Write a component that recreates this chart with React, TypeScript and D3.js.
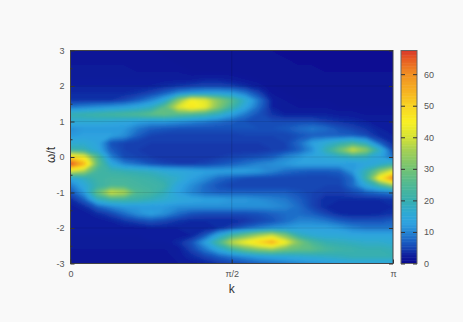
import React, { useEffect, useRef } from 'react';
import * as d3 from 'd3';

// Axis ticks
const kTicks = [0, Math.PI / 2, Math.PI];
const kLabels = ['0', 'π/2', 'π'];
const omegaTicks = [-3, -2, -1, 0, 1, 2, 3];
const omegaMinorTicks = [-2.5, -1.5, -0.5, 0.5, 1.5, 2.5];
const omegaGrid = [-2, -1, 0, 1, 2];
const colorTicks = [0, 10, 20, 30, 40, 50, 60];
const colorMax = 67.5;

// Spectral weight: 25 k columns from 0 to pi, rows from w/t = 3 down to -3 by 0.2
const intensity = [
  [1.5, 1.5, 1.5, 1.5, 1.5, 1.5, 1.5, 1, 1, 1, 1, 1, 1, 1, 1, 1, 0.5, 0.5, 0.5, 0.5, 0.5, 0.5, 0.5, 0.5, 0.5],
  [1.5, 1.5, 1.5, 1.5, 1.5, 1.5, 1.5, 1.5, 1, 1, 1, 1, 1, 1, 1, 1, 1, 0.5, 0.5, 0.5, 0.5, 0.5, 0.5, 0.5, 0.5],
  [2, 2, 2, 2, 2, 1.5, 1.5, 1.5, 1.5, 1, 1, 1, 1, 1, 1, 1, 1, 1, 1, 0.5, 0.5, 0.5, 0.5, 0.5, 0.5],
  [2, 2, 2, 2, 2, 2, 2, 2, 2, 1.5, 1.5, 1.5, 1.5, 1, 1, 1, 1, 1, 1, 1, 1, 1, 1, 1, 1],
  [2.5, 2.5, 2.5, 2.5, 2.5, 2.5, 2.5, 2.5, 2.5, 2.5, 3, 3, 2.5, 2, 1.5, 1, 1, 1, 1, 1, 1, 1, 1, 1, 1],
  [3, 3, 3, 3, 3, 3, 3, 3.5, 4, 4.5, 5, 5, 4.5, 3.5, 2.5, 1.5, 1, 1, 1, 1, 1, 1, 1, 1, 1],
  [3.5, 3.5, 3.5, 3.5, 3.5, 4, 5, 7, 10, 12, 13, 13, 12, 9, 5, 2, 1.5, 1, 1, 1, 1, 1, 1, 1, 1],
  [4, 4, 4, 4, 5, 7, 10, 15, 32, 45, 42, 33, 26, 17, 9, 3, 2, 1.5, 1.5, 1.5, 1, 1, 1, 1, 1],
  [9, 10, 11, 12, 13, 15, 18, 27, 41, 47, 43, 32, 22, 14, 8, 3, 2, 2, 2, 2, 1.5, 1.5, 1.5, 1.5, 1.5],
  [20, 21, 22, 23, 24, 25, 27, 28, 26, 24, 22, 18, 13, 9, 6, 4, 3, 3, 3, 3, 2.5, 2.5, 2, 2, 2],
  [16, 16, 16, 15, 14, 13, 12, 12, 11, 10, 9, 8, 7, 6, 5.5, 5.5, 5.5, 5.5, 5.5, 4.5, 4, 3.5, 3, 2.5, 2.5],
  [11, 12, 12, 12, 12, 9, 7, 6.5, 6, 6, 6, 6, 6, 6, 6, 6, 6.5, 8, 9, 8, 6, 5, 4, 3, 2.5],
  [12, 13, 13, 13, 11, 7, 5, 4.5, 4.5, 4.5, 4.5, 4.5, 4.5, 5, 5, 5, 5, 6, 7, 7, 7, 7, 5.5, 3.5, 3],
  [16, 16, 14, 6, 5, 4.5, 4.5, 4.5, 4.5, 4.5, 4.5, 4.5, 4.5, 4.5, 4.5, 4.5, 5, 8, 13, 16, 19, 22, 17, 7, 3.5],
  [21, 20, 15, 7, 5, 4.5, 4, 4, 4, 4, 4, 4, 4, 4, 4, 4.5, 5, 7, 11, 20, 29, 40, 33, 18, 5],
  [50, 44, 25, 10, 5.5, 5, 4.5, 4, 4, 4, 4, 4.5, 5, 5.5, 6, 7, 10, 12, 14, 15, 17, 19, 18, 14, 8],
  [67, 55, 28, 15, 10, 8, 6, 5, 4.5, 4.5, 5, 6, 7, 8.5, 10, 11, 12, 13, 13, 13, 13, 12, 14, 16, 20],
  [40, 35, 23, 21, 20, 19, 18, 16, 15, 14, 13, 13, 13, 13, 12, 10, 8, 7, 6.5, 6.5, 7, 12, 20, 32, 42],
  [14, 18, 22, 23, 23, 22, 21, 19, 17, 13, 11, 8, 6.5, 5.5, 5, 5, 5, 5, 5, 5, 5.5, 8, 22, 46, 62],
  [9, 15, 21, 24, 24, 23, 22, 21, 14, 11, 8, 6, 5, 5, 5, 5, 5, 5, 5, 5, 5, 8, 15, 22, 32],
  [6, 12, 28, 40, 37, 25, 23, 19, 13, 10, 8, 7, 7, 7, 7, 7, 7, 6, 5, 4.5, 4.5, 5.5, 7, 8, 9],
  [3.5, 7, 18, 22, 22, 21, 19, 17, 15, 14, 13, 13, 12, 12, 11, 10, 9, 7, 5, 3.5, 3.5, 3.5, 3.5, 3.5, 4],
  [2.5, 3.5, 7, 10, 12, 12, 12, 12, 11, 11, 11, 11, 11, 11, 11, 11, 10, 8, 5, 3.5, 3, 3, 3, 3, 3.5],
  [2.5, 2.5, 3.5, 5, 8, 11, 13, 11, 8, 6, 5.5, 5.5, 5.5, 5.5, 6, 7, 8, 8, 7, 5, 3.5, 3, 3, 3.5, 4],
  [2.5, 2.5, 2.5, 3, 4, 5, 6, 5, 4, 3.5, 3.5, 3.5, 3.5, 4, 5, 6, 8, 10, 10, 9, 7, 6, 6, 6, 7],
  [2.5, 2.5, 2.5, 2.5, 2.5, 2.5, 3, 3, 3, 3, 3, 3.5, 5, 7, 9, 11, 12, 13, 13, 13, 12, 10, 9, 9, 9],
  [2.5, 2.5, 2.5, 2.5, 2.5, 2.5, 2.5, 2.5, 2.5, 3, 6, 14, 22, 28, 34, 38, 30, 19, 16, 15, 15, 14, 14, 14, 14],
  [2, 2, 2, 2, 2, 2, 2.5, 2.5, 3.5, 6, 13, 24, 38, 44, 50, 56, 44, 32, 24, 20, 19, 18, 17, 17, 16],
  [2, 2, 2, 2, 2, 2, 2, 2, 2.5, 5, 9, 15, 22, 28, 32, 34, 30, 28, 27, 24, 22, 21, 20, 20, 19],
  [1.5, 1.5, 1.5, 1.5, 1.5, 1.5, 1.5, 1.5, 2.5, 3.5, 5, 7, 9, 11, 13, 14, 15, 16, 17, 18, 19, 20, 20, 20, 20],
  [1.5, 1.5, 1.5, 1.5, 1.5, 1.5, 1.5, 1.5, 2, 2.5, 3, 4, 5, 6, 7, 8, 9, 10, 11, 12, 13, 14, 14, 14, 14],
];

const colorStops = [0, 3, 5, 7, 10, 13, 16, 20, 25, 30, 36, 40, 45, 50, 55, 60, 65, 67.5];
const colorValues = [
  '#08088e', '#0e209e', '#1644b2', '#1a5ec2', '#2484d2', '#2ea2e0', '#2eaad4', '#36aeb0', '#4fb894',
  '#72c274', '#a4d054', '#d4e236', '#f8f024', '#f8d422', '#f6b022', '#f09022', '#e65a24', '#d83828',
];

const width = 463;
const height = 322;
const plot = { left: 70.5, right: 393, top: 50.5, bottom: 263.5 };
const bar = { left: 401, right: 417 };

const color = d3.scaleLinear<string>().domain(colorStops).range(colorValues).clamp(true);

export default function App() {
  const svgRef = useRef<SVGSVGElement>(null);

  const xScale = d3.scaleLinear().domain([0, Math.PI]).range([plot.left, plot.right]);
  const yScale = d3.scaleLinear().domain([-3, 3]).range([plot.bottom, plot.top]);
  const barScale = d3.scaleLinear().domain([0, colorMax]).range([plot.bottom, plot.top]);

  const nCols = intensity[0].length;
  const nRows = intensity.length;
  const colX = d3.scaleLinear().domain([0.5, nCols - 0.5]).range([plot.left, plot.right]);
  const rowY = d3.scaleLinear().domain([0.5, nRows - 0.5]).range([plot.top, plot.bottom]);

  const levels = d3.range(0, colorMax, 0.5);
  const contours = d3
    .contours()
    .size([nCols, nRows])
    .thresholds(levels)(intensity.flat());
  const path = d3.geoPath(
    d3.geoTransform({
      point(x, y) {
        this.stream.point(colX(x), rowY(y));
      },
    })
  );

  useEffect(() => {
    const svg = d3.select(svgRef.current);

    const styleAxis = (g, labelSize = 9) => {
      g.select('.domain').remove();
      g.selectAll('line').attr('stroke', '#333').attr('stroke-width', 1);
      g.selectAll('text')
        .attr('fill', '#555')
        .style('font-size', labelSize + 'px')
        .style('font-family', '"Liberation Sans", Arial, sans-serif');
    };

    // Draw x axis
    const xAxis = d3
      .axisBottom(xScale)
      .tickValues(kTicks)
      .tickSizeInner(-4)
      .tickSizeOuter(0)
      .tickPadding(7)
      .tickFormat((d, i) => kLabels[i]);
    svg.select('.x-axis').call(xAxis).call(styleAxis);

    // Draw y axis
    const yAxis = d3
      .axisLeft(yScale)
      .tickValues(omegaTicks)
      .tickSizeInner(-4)
      .tickSizeOuter(0)
      .tickPadding(6)
      .tickFormat(d => String(d));
    svg.select('.y-axis').call(yAxis).call(styleAxis);

    const yMinor = d3
      .axisLeft(yScale)
      .tickValues(omegaMinorTicks)
      .tickSizeInner(-2)
      .tickSizeOuter(0)
      .tickFormat(() => '');
    svg.select('.y-minor').call(yMinor).call(styleAxis);

    const yRight = d3
      .axisRight(yScale)
      .tickValues(omegaTicks)
      .tickSizeInner(-4)
      .tickSizeOuter(0)
      .tickFormat(() => '');
    svg.select('.y-right').call(yRight).call(styleAxis);

    // Draw colour bar labels
    const barAxis = d3
      .axisRight(barScale)
      .tickValues(colorTicks)
      .tickSizeInner(-4)
      .tickSizeOuter(0)
      .tickPadding(7)
      .tickFormat(d => String(d));
    svg.select('.bar-axis').call(barAxis).call(styleAxis);

    const barLeft = d3
      .axisLeft(barScale)
      .tickValues(colorTicks)
      .tickSizeInner(-4)
      .tickSizeOuter(0)
      .tickFormat(() => '');
    svg.select('.bar-left').call(barLeft).call(styleAxis);
  }, []);

  return (
    <svg
      ref={svgRef}
      width={width}
      height={height}
      style={{ position: 'absolute', left: 0, top: 0 }}
    >
      <defs>
        <clipPath id="plot-clip">
          <rect
            x={plot.left}
            y={plot.top}
            width={plot.right - plot.left}
            height={plot.bottom - plot.top}
          />
        </clipPath>
        <filter id="soften" x="-5%" y="-5%" width="110%" height="110%">
          <feGaussianBlur stdDeviation="1.6" />
        </filter>
      </defs>
      <rect width={width} height={height} fill="#f9f9f9" />

      <g clipPath="url(#plot-clip)">
        <g filter="url(#soften)">
          <rect
            x={plot.left - 10}
            y={plot.top - 10}
            width={plot.right - plot.left + 20}
            height={plot.bottom - plot.top + 20}
            fill={color(0)}
          />
          {contours.map(c => (
            <path key={c.value} d={path(c)} fill={color(c.value + 0.25)} />
          ))}
        </g>
        {omegaGrid.map(w => (
          <line
            key={w}
            x1={plot.left}
            x2={plot.right}
            y1={yScale(w)}
            y2={yScale(w)}
            stroke="#000"
            strokeOpacity={0.18}
            strokeDasharray="1 1"
          />
        ))}
        <line
          x1={xScale(Math.PI / 2)}
          x2={xScale(Math.PI / 2)}
          y1={plot.top}
          y2={plot.bottom}
          stroke="#000"
          strokeOpacity={0.28}
          strokeDasharray="1 1"
        />
      </g>

      <rect
        x={plot.left}
        y={plot.top}
        width={plot.right - plot.left}
        height={plot.bottom - plot.top}
        fill="none"
        stroke="#444"
      />
      <g className="x-axis" transform={`translate(0,${plot.bottom})`} />
      <g className="y-axis" transform={`translate(${plot.left},0)`} />
      <g className="y-minor" transform={`translate(${plot.left},0)`} />
      <g className="y-right" transform={`translate(${plot.right},0)`} />

      {levels.map(v => (
        <rect
          key={v}
          x={bar.left}
          y={barScale(Math.min(v + 0.5, colorMax))}
          width={bar.right - bar.left}
          height={barScale(v) - barScale(Math.min(v + 0.5, colorMax)) + 0.5}
          fill={color(v + 0.25)}
        />
      ))}
      <rect
        x={bar.left}
        y={plot.top}
        width={bar.right - bar.left}
        height={plot.bottom - plot.top}
        fill="none"
        stroke="#666"
      />
      <g className="bar-axis" transform={`translate(${bar.right},0)`} />
      <g className="bar-left" transform={`translate(${bar.left},0)`} />

      <text
        x={(plot.left + plot.right) / 2}
        y={293}
        textAnchor="middle"
        fontSize={12}
        fill="#333"
        fontFamily='"Liberation Sans", Arial, sans-serif'
      >
        k
      </text>
      <text
        transform={`translate(55,${yScale(0) - 2}) rotate(-90)`}
        textAnchor="middle"
        fontSize={12}
        fill="#333"
        fontFamily='"Liberation Sans", Arial, sans-serif'
      >
        ω/t
      </text>
    </svg>
  );
}
